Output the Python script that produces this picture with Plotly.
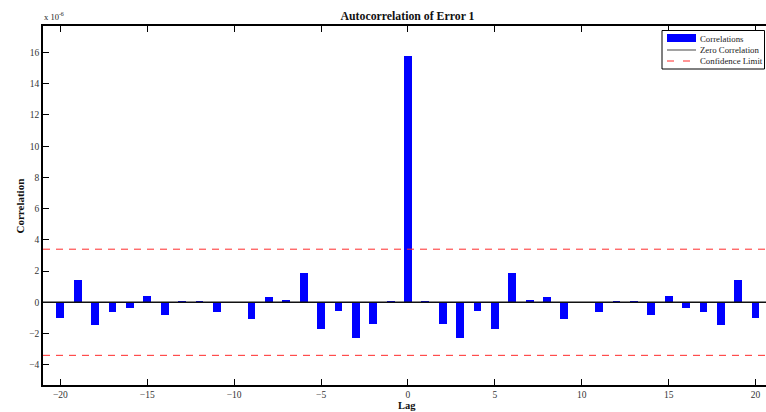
import plotly.graph_objects as go

lags = list(range(-20, 21))
correlations = [
    -1.00, 1.43, -1.45, -0.62, -0.36, 0.41, -0.81, 0.085, 0.085, -0.62,
    -0.02, -1.07, 0.34, 0.15, 1.88, -1.71, -0.56, -2.26, -1.39, 0.02,
    15.8,
    0.02, -1.39, -2.26, -0.56, -1.71, 1.88, 0.15, 0.34, -1.07, -0.02,
    -0.62, 0.085, 0.085, -0.81, 0.41, -0.36, -0.62, -1.45, 1.43, -1.00,
]
conf_limit = 3.4
x_ticks = [-20, -15, -10, -5, 0, 5, 10, 15, 20]
y_ticks = [-4, -2, 0, 2, 4, 6, 8, 10, 12, 14, 16]
legend_labels = ["Correlations", "Zero Correlation", "Confidence Limit"]

FONT = "Liberation Serif"
BLUE = "#0000ff"
RED = "#ff2a2a"
DASH = "7px,6px"

W, H = 766, 412
L, R, T, B = 43, 766, 26, 385  # plot area in window pixels


def px(X):
    return (X - L) / (R - L)


def py(Y):
    return (B - Y) / (B - T)


fig = go.Figure()
fig.add_trace(go.Bar(x=lags, y=correlations, width=0.45,
                     marker=dict(color=BLUE, line=dict(width=0)), name=legend_labels[0]))

for yv, col, dash, w in [(0, "#111111", "solid", 1.6), (conf_limit, RED, DASH, 1),
                         (-conf_limit, RED, DASH, 1)]:
    fig.add_shape(type="line", xref="paper", x0=0, x1=1, yref="y", y0=yv, y1=yv,
                  line=dict(color=col, width=w, dash=dash), layer="above")

# legend box (MATLAB style)
fig.add_shape(type="rect", xref="paper", yref="paper", x0=px(662), x1=px(764.5), y0=py(69), y1=py(30.5),
              line=dict(color="black", width=1), fillcolor="white", layer="above")
fig.add_shape(type="rect", xref="paper", yref="paper", x0=px(667), x1=px(696), y0=py(42), y1=py(34),
              line=dict(width=0), fillcolor=BLUE, layer="above")
fig.add_shape(type="line", xref="paper", yref="paper", x0=px(667), x1=px(696), y0=py(50), y1=py(50),
              line=dict(color="#707070", width=1.3), layer="above")
fig.add_shape(type="line", xref="paper", yref="paper", x0=px(667), x1=px(694), y0=py(61), y1=py(61),
              line=dict(color=RED, width=1.2, dash="7px,9px"), layer="above")

annotations = []
for lab, yy in zip(legend_labels, [39.5, 50.5, 61]):
    annotations.append(dict(text=lab, xref="paper", yref="paper", x=px(698), y=py(yy), xanchor="left",
                            yanchor="middle", showarrow=False,
                            font=dict(family=FONT, size=8.8, color="#222")))
annotations += [
    dict(text="x 10<sup>-6</sup>", xref="paper", yref="paper", x=px(42), y=py(17), xanchor="left",
         yanchor="middle", showarrow=False, font=dict(family=FONT, size=8.5, color="#222")),
    dict(text="<b>Lag</b>", xref="paper", yref="paper", x=px(407), y=py(405), xanchor="center",
         yanchor="middle", showarrow=False, font=dict(family=FONT, size=10.5, color="#111")),
    dict(text="<b>Correlation</b>", xref="paper", yref="paper", x=px(19.5), y=py(206), xanchor="center",
         yanchor="middle", showarrow=False, textangle=-90, font=dict(family=FONT, size=11, color="#111")),
]

fig.update_layout(
    width=W, height=H,
    margin=dict(l=L, r=W - R, t=T, b=H - B),
    plot_bgcolor="white", paper_bgcolor="white",
    font=dict(family=FONT, size=9.5, color="#333"),
    showlegend=False,
    bargap=0,
    title=dict(text="<b>Autocorrelation of Error 1</b>", x=407.5 / W, xanchor="center",
               y=1 - 16 / H, yanchor="middle", font=dict(family=FONT, size=11.8, color="#111")),
    annotations=annotations,
)
fig.update_xaxes(range=[-21, 20.6], tickvals=x_ticks, ticks="inside", ticklen=6, tickcolor="black",
                 showline=True, linecolor="black", linewidth=1.5, mirror="ticks", showgrid=False,
                 zeroline=False)
fig.update_yaxes(range=[-5.3, 17.7], tickvals=y_ticks, ticks="inside", ticklen=6, tickcolor="black",
                 showline=True, linecolor="black", linewidth=1.5, mirror=False, showgrid=False,
                 zeroline=False)

fig.write_html("out.html", config={"displayModeBar": False},
               post_script="document.body.style.margin='0';document.body.style.overflow='hidden';")
